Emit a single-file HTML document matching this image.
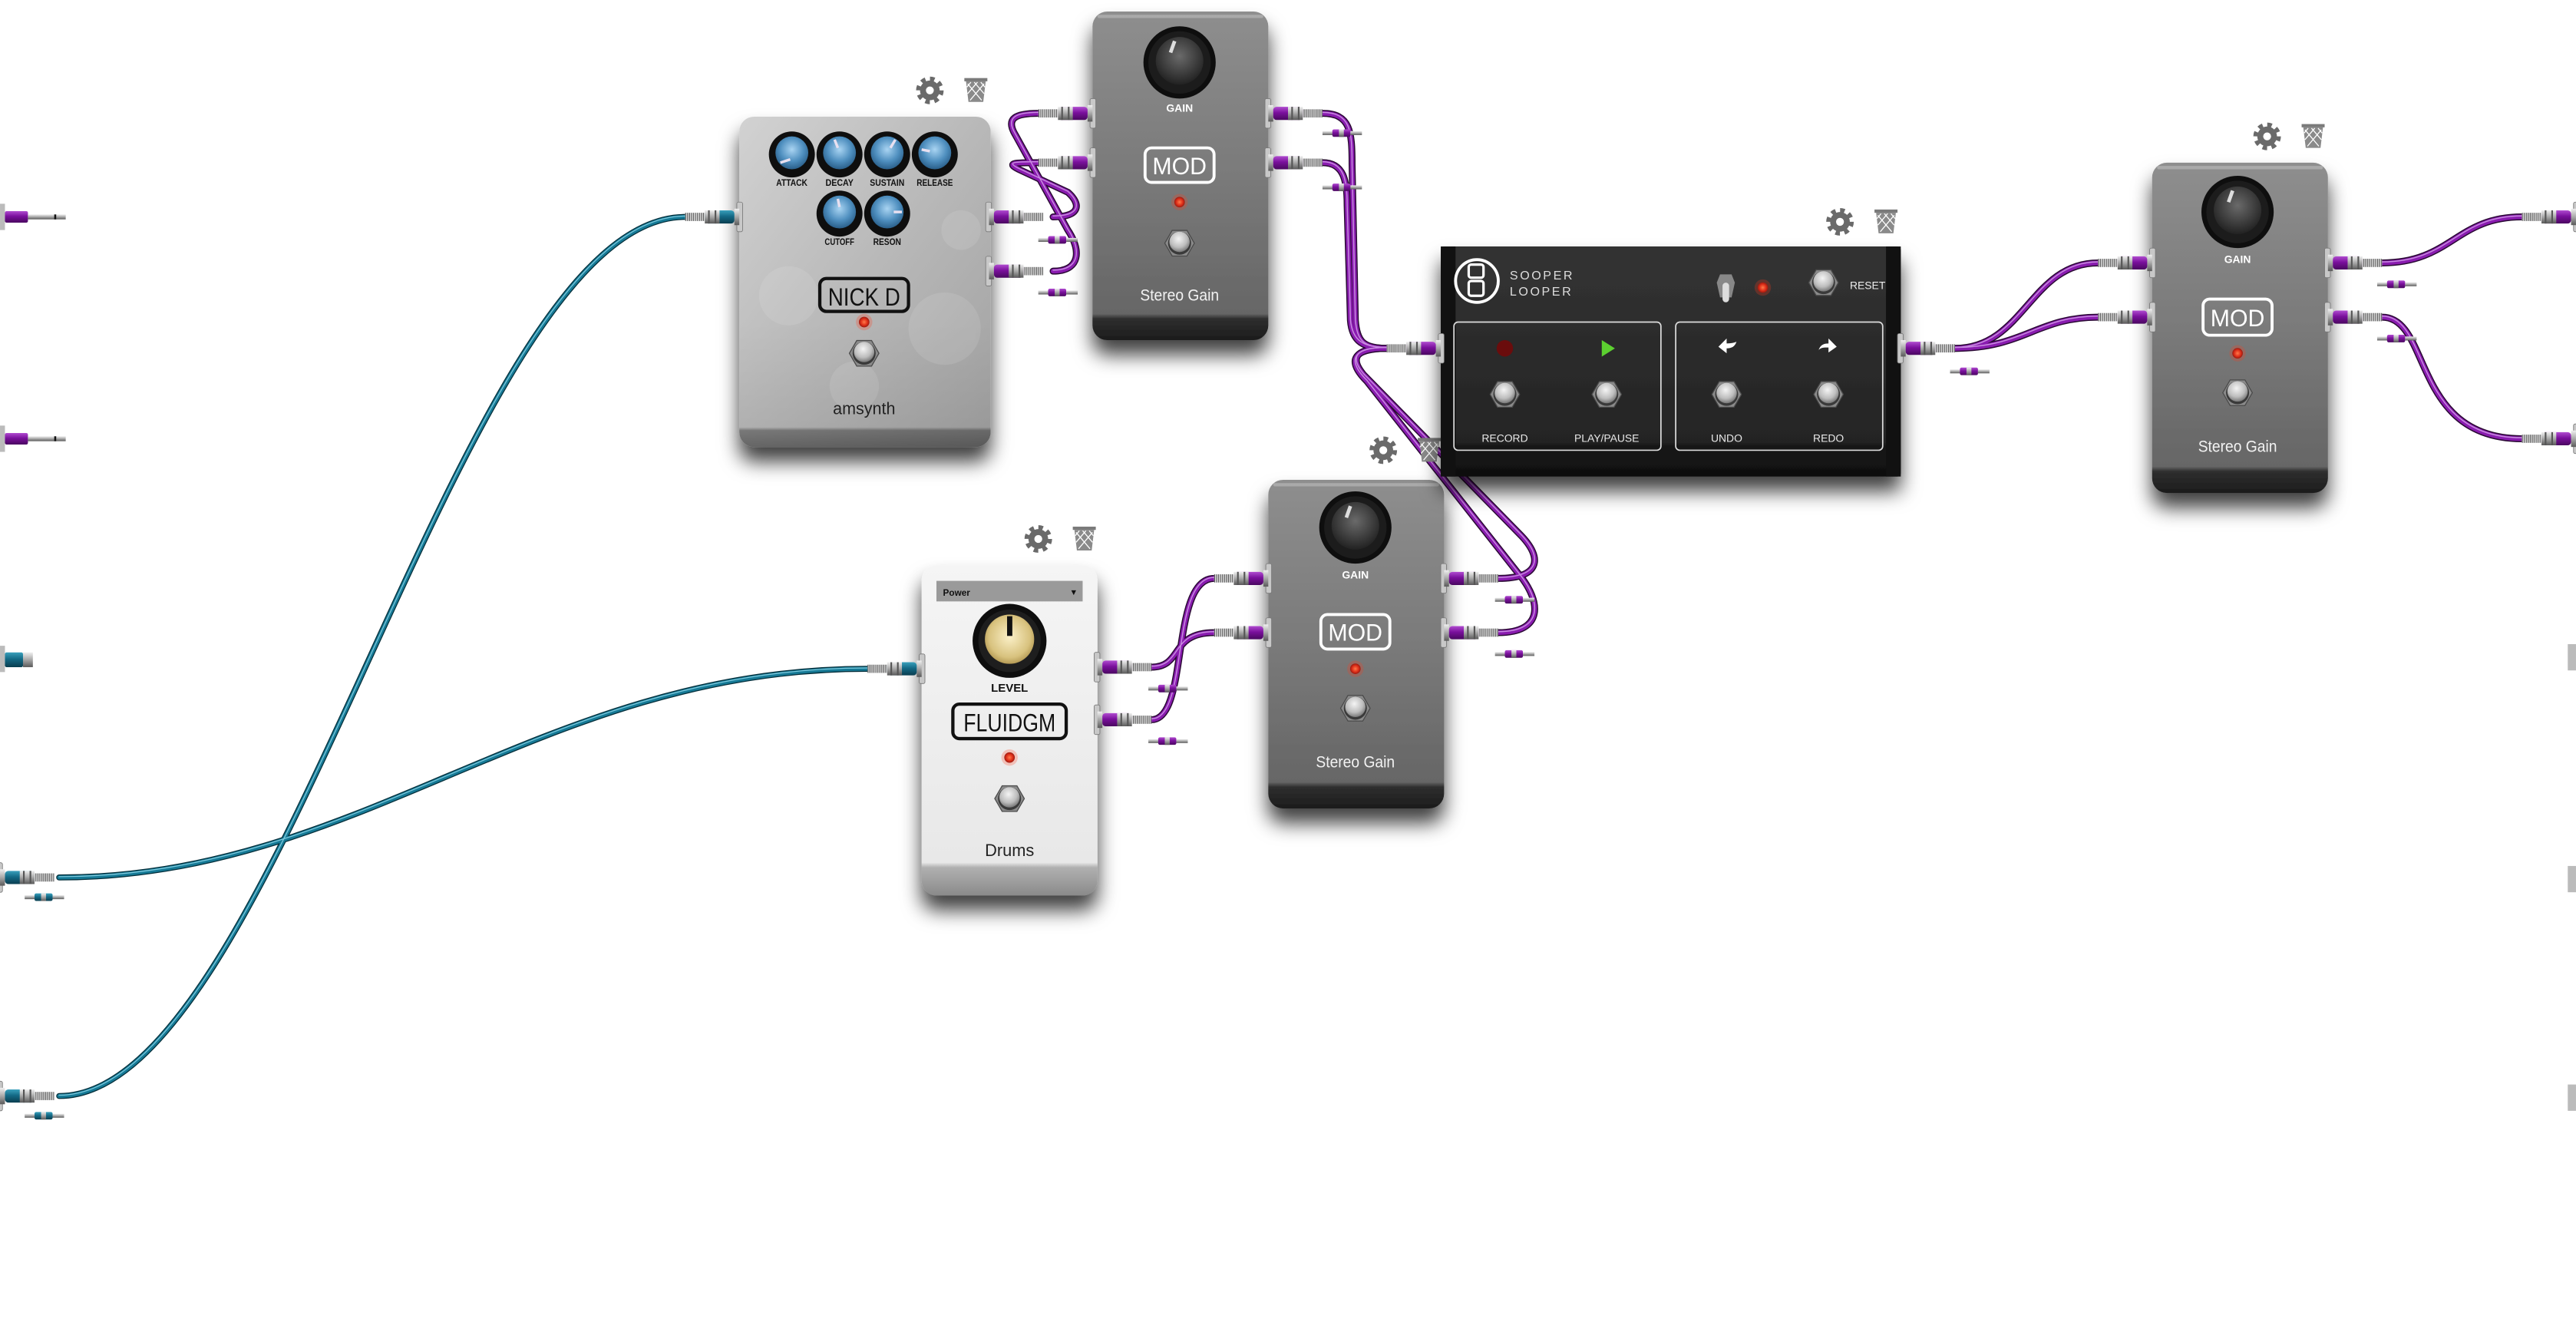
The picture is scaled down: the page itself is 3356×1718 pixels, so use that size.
<!DOCTYPE html>
<html><head><meta charset="utf-8"><style>
html,body{margin:0;padding:0;background:#fff;}
svg{display:block;}
text{font-family:"Liberation Sans",sans-serif;}
</style></head><body>
<svg width="3356" height="1718" viewBox="0 0 1568 802.7" xmlns="http://www.w3.org/2000/svg">
<defs>
<filter id="sh" x="-30%" y="-20%" width="160%" height="160%"><feDropShadow dx="0" dy="9" stdDeviation="6" flood-color="#000" flood-opacity="0.75"/></filter>
<linearGradient id="sgBody" x1="0" y1="0" x2="0" y2="1"><stop offset="0" stop-color="#8e8e8e"/><stop offset="0.5" stop-color="#7a7a7a"/><stop offset="0.92" stop-color="#666"/><stop offset="0.935" stop-color="#2e2e2e"/><stop offset="1" stop-color="#1c1c1c"/></linearGradient>
<linearGradient id="ndBody" x1="0" y1="0" x2="1" y2="1"><stop offset="0" stop-color="#d2d2d2"/><stop offset="0.5" stop-color="#b8b8b8"/><stop offset="1" stop-color="#a0a0a0"/></linearGradient>
<linearGradient id="ndBand" x1="0" y1="0" x2="0" y2="1"><stop offset="0" stop-color="#000" stop-opacity="0"/><stop offset="0.62" stop-color="#000" stop-opacity="0"/><stop offset="0.94" stop-color="#000" stop-opacity="0.05"/><stop offset="0.95" stop-color="#000" stop-opacity="0.35"/><stop offset="1" stop-color="#000" stop-opacity="0.45"/></linearGradient>
<linearGradient id="wBody" x1="0" y1="0" x2="0" y2="1"><stop offset="0" stop-color="#f5f5f5"/><stop offset="0.9" stop-color="#e8e8e8"/><stop offset="0.915" stop-color="#b0b0b0"/><stop offset="1" stop-color="#8a8a8a"/></linearGradient>
<linearGradient id="slBody" x1="0" y1="0" x2="0" y2="1"><stop offset="0" stop-color="#333"/><stop offset="0.85" stop-color="#242424"/><stop offset="0.87" stop-color="#151515"/><stop offset="1" stop-color="#101010"/></linearGradient>
<radialGradient id="blueG" cx="0.5" cy="0.4" r="0.6"><stop offset="0" stop-color="#a9d4f2"/><stop offset="0.6" stop-color="#4f8fbf"/><stop offset="1" stop-color="#2a5f8a"/></radialGradient>
<radialGradient id="blackG" cx="0.5" cy="0.4" r="0.6"><stop offset="0" stop-color="#6a6a6a"/><stop offset="1" stop-color="#222"/></radialGradient>
<radialGradient id="goldG" cx="0.5" cy="0.45" r="0.6"><stop offset="0" stop-color="#fbf0c8"/><stop offset="0.7" stop-color="#d8c27e"/><stop offset="1" stop-color="#a88c46"/></radialGradient>
<radialGradient id="silvR" cx="0.45" cy="0.35" r="0.7"><stop offset="0" stop-color="#f4f4f4"/><stop offset="0.6" stop-color="#bdbdbd"/><stop offset="1" stop-color="#6a6a6a"/></radialGradient>
<radialGradient id="ledR" cx="0.5" cy="0.5" r="0.5"><stop offset="0" stop-color="#ff7a4a"/><stop offset="0.6" stop-color="#e0301a"/><stop offset="1" stop-color="#9a1a10"/></radialGradient>
<linearGradient id="purp" x1="0" y1="0" x2="0" y2="1"><stop offset="0" stop-color="#b04cd0"/><stop offset="0.45" stop-color="#7a109c"/><stop offset="1" stop-color="#4a0860"/></linearGradient>
<linearGradient id="teal" x1="0" y1="0" x2="0" y2="1"><stop offset="0" stop-color="#3aa0bc"/><stop offset="0.45" stop-color="#146a86"/><stop offset="1" stop-color="#0a3e50"/></linearGradient>
<linearGradient id="silv" x1="0" y1="0" x2="0" y2="1"><stop offset="0" stop-color="#f0f0f0"/><stop offset="0.5" stop-color="#a8a8a8"/><stop offset="1" stop-color="#5a5a5a"/></linearGradient>
<pattern id="rib" width="1.2" height="10" patternUnits="userSpaceOnUse"><rect width="1.2" height="10" fill="#ddd"/><rect width="0.5" height="10" fill="#555"/></pattern>

<g id="jack"><rect x="-2" y="-9" width="3.5" height="18" rx="1" fill="#c8c8c8" stroke="#777" stroke-width="0.4"/><rect x="0" y="-5" width="3" height="10" fill="url(#silv)"/></g>
<g id="plugP"><use href="#jack"/><rect x="3" y="-4" width="18" height="8" rx="2" fill="url(#purp)"/><rect x="12" y="-4" width="9" height="8" fill="url(#silv)"/><rect x="14" y="-4" width="1" height="8" fill="#555"/><rect x="18" y="-4" width="1" height="8" fill="#555"/><rect x="21" y="-2.5" width="12" height="5" fill="url(#rib)"/></g>
<g id="plugT"><use href="#jack"/><rect x="3" y="-4" width="18" height="8" rx="2" fill="url(#teal)"/><rect x="12" y="-4" width="9" height="8" fill="url(#silv)"/><rect x="14" y="-4" width="1" height="8" fill="#555"/><rect x="18" y="-4" width="1" height="8" fill="#555"/><rect x="21" y="-2.5" width="12" height="5" fill="url(#rib)"/></g>
<g id="smallP"><rect x="0" y="-1.2" width="7" height="2.4" fill="url(#silv)"/><rect x="6" y="-2.3" width="11" height="4.6" rx="1" fill="url(#purp)"/><rect x="10" y="-2.3" width="3" height="4.6" fill="url(#silv)"/><rect x="17" y="-1.2" width="7" height="2.4" fill="url(#silv)"/></g>
<g id="smallT"><rect x="0" y="-1.2" width="7" height="2.4" fill="url(#silv)"/><rect x="6" y="-2.3" width="11" height="4.6" rx="1" fill="url(#teal)"/><rect x="10" y="-2.3" width="3" height="4.6" fill="url(#silv)"/><rect x="17" y="-1.2" width="7" height="2.4" fill="url(#silv)"/></g>
<g id="fs"><polygon points="9,0 4.5,7.8 -4.5,7.8 -9,0 -4.5,-7.8 4.5,-7.8" fill="#8a8a8a" stroke="#4a4a4a" stroke-width="0.6"/><circle r="7" fill="#3a3a3a"/><circle r="6.2" cy="-0.8" fill="url(#silvR)"/></g>
<g id="led"><circle r="5" fill="#ff3a1a" opacity="0.25"/><circle r="3.2" fill="url(#ledR)"/></g>
<g id="gear"><circle r="7" fill="none" stroke="#6a6a6a" stroke-width="2.8" stroke-dasharray="2.75 2.75"/><circle r="6" fill="#6a6a6a"/><circle r="2.4" fill="#fff"/></g>
<g id="trash"><rect x="-7" y="-7.5" width="14" height="2" fill="#7a7a7a"/><path d="M-6,-5.5 L6,-5.5 L4.5,7 L-4.5,7Z" fill="#8a8a8a"/><path d="M-5,-4 L3.5,6 M-1,-5 L5,2 M3,-5 L5.5,-2 M5,-4 L-3.5,6 M1,-5 L-5,2 M-3,-5 L-5.5,-2" stroke="#fff" stroke-width="0.6"/></g>
<g id="knobD"><circle r="22" fill="#0e0e0e"/><circle r="19" fill="#1c1c1c"/><circle r="14.5" cy="-1" fill="url(#blackG)"/><line x1="-3" y1="-13" x2="-5.5" y2="-6" stroke="#ddd" stroke-width="2.2"/></g>
<g id="knobB"><circle r="14" fill="#0e0e0e"/><circle r="10" cy="-1" fill="url(#blueG)"/></g>
</defs>

<g fill="none" stroke-linecap="round">
<g stroke="#2a0a34" stroke-width="4.2">
<path id="c1" d="M641,132 C658,132 658,124 650,117 L620,103 C612,99 618,99 632,99"/>
<path id="c2" d="M641,165 C658,165 658,152 650,140 L618,82 C612,72 618,69 632,69"/>
<path id="c3" d="M805,69 C822,69 823,80 823,100 L825,195 C826,208 830,212 844,212"/>
<path id="c4" d="M805,99 C818,99 820,110 820,125 L822,195 C823,208 830,212 844,212"/>
<path id="c5" d="M912,352 C937,352 940,340 925,325 L830,228 C820,216 828,212 844,212"/>
<path id="c6" d="M912,385 C940,385 938,366 925,350 L832,232 C818,218 826,212 844,212"/>
<path id="c7" d="M701,406 C720,406 712,385 739,385"/>
<path id="c8" d="M701,438 C724,438 712,352 739,352"/>
<path id="c9" d="M1190,212 C1232,212 1236,160 1277,160"/>
<path id="c10" d="M1190,212 C1232,212 1240,193 1277,193"/>
<path id="c11" d="M1450,160 C1492,160 1495,132 1535,132"/>
<path id="c12" d="M1450,193 C1480,193 1468,267 1535,267"/>
</g>
<g stroke="#8a1cb0" stroke-width="2.8">
<use href="#c1"/><use href="#c2"/><use href="#c3"/><use href="#c4"/><use href="#c5"/><use href="#c6"/><use href="#c7"/><use href="#c8"/><use href="#c9"/><use href="#c10"/><use href="#c11"/><use href="#c12"/>
</g>
<g stroke="#c88ae0" stroke-width="0.7" transform="translate(0,-0.6)">
<use href="#c1"/><use href="#c2"/><use href="#c3"/><use href="#c4"/><use href="#c5"/><use href="#c6"/><use href="#c7"/><use href="#c8"/><use href="#c9"/><use href="#c10"/><use href="#c11"/><use href="#c12"/>
</g>
<g stroke="#06303c" stroke-width="3.6">
<path id="t1" d="M36,534 C220,534 330,407 528,407"/>
<path id="t2" d="M36,667 C170,667 280,132 417,132"/>
</g>
<g stroke="#167a96" stroke-width="2.4"><use href="#t1"/><use href="#t2"/></g>
<g stroke="#7cc8dc" stroke-width="0.6" transform="translate(0,-0.5)"><use href="#t1"/><use href="#t2"/></g>
</g>

<g>
<rect x="0" y="124" width="3" height="16" fill="#bbb"/><rect x="3" y="128.5" width="14" height="7" rx="1" fill="url(#purp)"/><rect x="17" y="130.5" width="23" height="3" fill="url(#silv)"/><rect x="33" y="130.5" width="1.2" height="3" fill="#111"/>
<rect x="0" y="259" width="3" height="16" fill="#bbb"/><rect x="3" y="263.5" width="14" height="7" rx="1" fill="url(#purp)"/><rect x="17" y="265.5" width="23" height="3" fill="url(#silv)"/><rect x="33" y="265.5" width="1.2" height="3" fill="#111"/>
<rect x="0" y="393" width="3" height="16" fill="#bbb"/><rect x="3" y="397" width="11" height="9" rx="1" fill="url(#teal)"/><rect x="14" y="397" width="6" height="9" fill="url(#silv)"/>
<use href="#plugT" x="0" y="534"/><use href="#smallT" x="15" y="546"/>
<use href="#plugT" x="0" y="667"/><use href="#smallT" x="15" y="679"/>
</g>
<g fill="#bbb"><rect x="1563" y="392" width="5" height="16"/><rect x="1563" y="527" width="5" height="16"/><rect x="1563" y="660" width="5" height="16"/></g>
<use href="#plugP" transform="translate(1568,132) scale(-1,1)"/>
<use href="#plugP" transform="translate(1568,267) scale(-1,1)"/>

<!-- NICK D amsynth -->
<use href="#gear" x="566" y="55"/><use href="#trash" x="594" y="55"/>
<g filter="url(#sh)"><rect x="450" y="71" width="153" height="201" rx="9" fill="url(#ndBody)"/></g>
<rect x="450" y="71" width="153" height="201" rx="9" fill="url(#ndBand)"/>
<g fill="#fff" opacity="0.1"><circle cx="480" cy="180" r="18"/><circle cx="575" cy="200" r="22"/><circle cx="520" cy="235" r="15"/><circle cx="585" cy="140" r="12"/></g>
<use href="#knobB" x="482" y="94"/><line x1="481" y1="97" x2="475" y2="99" stroke="#e8e0f0" stroke-width="1.6"/>
<use href="#knobB" x="511" y="94"/><line x1="510" y1="90" x2="508" y2="85" stroke="#e8e0f0" stroke-width="1.6"/>
<use href="#knobB" x="540" y="94"/><line x1="542" y1="90" x2="545" y2="85" stroke="#e8e0f0" stroke-width="1.6"/>
<use href="#knobB" x="569" y="94"/><line x1="566" y1="92" x2="561" y2="91" stroke="#e8e0f0" stroke-width="1.6"/>
<use href="#knobB" x="511" y="130"/><line x1="511" y1="126" x2="510" y2="121" stroke="#e8e0f0" stroke-width="1.6"/>
<use href="#knobB" x="540" y="130"/><line x1="544" y1="129" x2="549" y2="129" stroke="#e8e0f0" stroke-width="1.6"/>
<g font-size="5.6" fill="#111" text-anchor="middle" font-weight="bold">
<text x="482" y="113" textLength="19" lengthAdjust="spacingAndGlyphs">ATTACK</text>
<text x="511" y="113" textLength="17" lengthAdjust="spacingAndGlyphs">DECAY</text>
<text x="540" y="113" textLength="21" lengthAdjust="spacingAndGlyphs">SUSTAIN</text>
<text x="569" y="113" textLength="22" lengthAdjust="spacingAndGlyphs">RELEASE</text>
<text x="511" y="149" textLength="18" lengthAdjust="spacingAndGlyphs">CUTOFF</text>
<text x="540" y="149" textLength="17" lengthAdjust="spacingAndGlyphs">RESON</text>
</g>
<rect x="499" y="169.5" width="54" height="20" rx="4" fill="none" stroke="#111" stroke-width="2"/>
<text x="526" y="186" font-size="15" text-anchor="middle" fill="#111" textLength="44" lengthAdjust="spacingAndGlyphs">NICK D</text>
<use href="#led" x="526" y="196"/>
<use href="#fs" x="526" y="215"/>
<text x="526" y="252" font-size="10.5" text-anchor="middle" fill="#222" textLength="38" lengthAdjust="spacingAndGlyphs">amsynth</text>
<use href="#plugT" transform="translate(450,132) scale(-1,1)"/>
<use href="#plugP" x="602" y="132"/><use href="#plugP" x="602" y="165"/>
<use href="#smallP" x="632" y="146"/><use href="#smallP" x="632" y="178"/>

<!-- Stereo Gain 1 -->
<g transform="translate(665,7)">
<g filter="url(#sh)"><rect x="0" y="0" width="107" height="200" rx="9" fill="url(#sgBody)"/></g>
<rect x="3" y="2" width="101" height="2" rx="1" fill="#fff" opacity="0.25"/>
<use href="#knobD" x="53" y="31"/>
<text x="53" y="61" font-size="6.5" font-weight="bold" fill="#fff" text-anchor="middle">GAIN</text>
<rect x="32" y="83" width="42" height="21" rx="4" fill="none" stroke="#fff" stroke-width="1.8"/>
<text x="53" y="99" font-size="14.5" fill="#fff" text-anchor="middle" textLength="33" lengthAdjust="spacingAndGlyphs">MOD</text>
<use href="#led" x="53" y="116"/>
<use href="#fs" x="53" y="141"/>
<text x="53" y="176" font-size="10" fill="#f2f2f2" text-anchor="middle" textLength="48" lengthAdjust="spacingAndGlyphs">Stereo Gain</text>
</g>
<use href="#plugP" transform="translate(665,69) scale(-1,1)"/><use href="#plugP" transform="translate(665,99) scale(-1,1)"/>
<use href="#plugP" x="772" y="69"/><use href="#plugP" x="772" y="99"/>
<use href="#smallP" x="805" y="81"/><use href="#smallP" x="805" y="114"/>

<!-- Drums FLUIDGM -->
<use href="#gear" x="632" y="328"/><use href="#trash" x="660" y="328"/>
<g filter="url(#sh)"><rect x="561" y="344" width="107" height="201" rx="9" fill="url(#wBody)"/></g>
<rect x="570" y="353.5" width="89" height="12.5" fill="#9a9a9a"/>
<text x="574" y="362.5" font-size="5.5" fill="#111" font-weight="bold">Power</text>
<text x="656" y="362" font-size="5" fill="#111" text-anchor="end">▼</text>
<circle cx="614.5" cy="390" r="22.5" fill="#0e0e0e"/><circle cx="614.5" cy="390" r="19" fill="#1e1e1e"/>
<circle cx="614.5" cy="389" r="15" fill="url(#goldG)"/>
<rect x="613" y="375" width="3.2" height="12" fill="#111"/>
<text x="614.5" y="421" font-size="7" font-weight="bold" fill="#111" text-anchor="middle">LEVEL</text>
<rect x="580" y="428.5" width="69" height="21" rx="4" fill="none" stroke="#111" stroke-width="2"/>
<text x="614.5" y="445" font-size="15" fill="#111" text-anchor="middle" textLength="56" lengthAdjust="spacingAndGlyphs">FLUIDGM</text>
<use href="#led" x="614.5" y="461"/>
<use href="#fs" x="614.5" y="486"/>
<text x="614.5" y="521" font-size="10.5" fill="#222" text-anchor="middle" textLength="30" lengthAdjust="spacingAndGlyphs">Drums</text>
<use href="#plugT" transform="translate(561,407) scale(-1,1)"/>
<use href="#plugP" x="668" y="406"/><use href="#plugP" x="668" y="438"/>
<use href="#smallP" x="699" y="419"/><use href="#smallP" x="699" y="451"/>

<!-- Stereo Gain 2 -->
<use href="#gear" x="842" y="274"/><use href="#trash" x="870" y="274"/>
<g transform="translate(772,292)">
<g filter="url(#sh)"><rect x="0" y="0" width="107" height="200" rx="9" fill="url(#sgBody)"/></g>
<rect x="3" y="2" width="101" height="2" rx="1" fill="#fff" opacity="0.25"/>
<use href="#knobD" x="53" y="29"/>
<text x="53" y="60" font-size="6.5" font-weight="bold" fill="#fff" text-anchor="middle">GAIN</text>
<rect x="32" y="82" width="42" height="21" rx="4" fill="none" stroke="#fff" stroke-width="1.8"/>
<text x="53" y="98" font-size="14.5" fill="#fff" text-anchor="middle" textLength="33" lengthAdjust="spacingAndGlyphs">MOD</text>
<use href="#led" x="53" y="115"/>
<use href="#fs" x="53" y="139"/>
<text x="53" y="175" font-size="10" fill="#f2f2f2" text-anchor="middle" textLength="48" lengthAdjust="spacingAndGlyphs">Stereo Gain</text>
</g>
<use href="#plugP" transform="translate(772,352) scale(-1,1)"/><use href="#plugP" transform="translate(772,385) scale(-1,1)"/>
<use href="#plugP" x="879" y="352"/><use href="#plugP" x="879" y="385"/>
<use href="#smallP" x="910" y="365"/><use href="#smallP" x="910" y="398"/>

<!-- Sooper Looper -->
<use href="#gear" x="1120" y="135"/><use href="#trash" x="1148" y="135"/>
<g filter="url(#sh)"><rect x="877" y="150" width="280" height="140" rx="2" fill="url(#slBody)"/></g>
<rect x="877" y="150" width="9" height="140" fill="#111"/><rect x="1148" y="150" width="9" height="140" fill="#111"/>
<circle cx="899" cy="171" r="13" fill="none" stroke="#fff" stroke-width="1.8"/>
<rect x="894" y="161" width="9" height="8" rx="1.5" fill="none" stroke="#fff" stroke-width="1.5"/>
<rect x="894" y="171" width="9" height="9" rx="1.5" fill="none" stroke="#fff" stroke-width="1.5"/>
<g font-size="7.5" fill="#ddd" letter-spacing="1.2"><text x="919" y="170">SOOPER</text><text x="919" y="180">LOOPER</text></g>
<polygon points="1045,172 1047,167 1054,167 1056,172 1054,181 1047,181" fill="#888"/><rect x="1048.5" y="172" width="4" height="12" rx="2" fill="#ddd"/>
<use href="#led" x="1073" y="175"/>
<use href="#fs" x="1110" y="172"/>
<text x="1126" y="176" font-size="6.5" fill="#eee">RESET</text>
<rect x="885" y="196" width="126" height="78" rx="2.5" fill="none" stroke="#ddd" stroke-width="0.8"/>
<rect x="1020" y="196" width="126" height="78" rx="2.5" fill="none" stroke="#ddd" stroke-width="0.8"/>
<circle cx="916" cy="212" r="5" fill="#6a0c0c"/>
<polygon points="975,207 975,217 983,212" fill="#5cd030"/>
<path d="M1046,211 l5,-5 v3 c3,0 5,-0.5 6,-1 c-1,3 -3,4 -6,4 v3z" fill="#fff"/>
<path d="M1118,211 l-5,-5 v3 c-3,0 -5,1 -6,4 c1.5,-1.5 3,-1.5 6,-1.5 v3z" fill="#fff"/>
<use href="#fs" x="916" y="240"/><use href="#fs" x="978" y="240"/><use href="#fs" x="1051" y="240"/><use href="#fs" x="1113" y="240"/>
<g font-size="6.5" fill="#e8e8e8" text-anchor="middle">
<text x="916" y="269">RECORD</text><text x="978" y="269">PLAY/PAUSE</text><text x="1051" y="269">UNDO</text><text x="1113" y="269">REDO</text>
</g>
<use href="#plugP" transform="translate(877,212) scale(-1,1)"/>
<use href="#plugP" x="1157" y="212"/>
<use href="#smallP" x="1187" y="226"/>

<!-- Stereo Gain 3 -->
<use href="#gear" x="1380" y="83"/><use href="#trash" x="1408" y="83"/>
<g transform="translate(1310,99)">
<g filter="url(#sh)"><rect x="0" y="0" width="107" height="201" rx="9" fill="url(#sgBody)"/></g>
<rect x="3" y="2" width="101" height="2" rx="1" fill="#fff" opacity="0.25"/>
<use href="#knobD" x="52" y="30"/>
<text x="52" y="61" font-size="6.5" font-weight="bold" fill="#fff" text-anchor="middle">GAIN</text>
<rect x="31" y="83" width="42" height="22" rx="4" fill="none" stroke="#fff" stroke-width="1.8"/>
<text x="52" y="99.5" font-size="14.5" fill="#fff" text-anchor="middle" textLength="33" lengthAdjust="spacingAndGlyphs">MOD</text>
<use href="#led" x="52" y="116"/>
<use href="#fs" x="52" y="140"/>
<text x="52" y="176" font-size="10" fill="#f2f2f2" text-anchor="middle" textLength="48" lengthAdjust="spacingAndGlyphs">Stereo Gain</text>
</g>
<use href="#plugP" transform="translate(1310,160) scale(-1,1)"/><use href="#plugP" transform="translate(1310,193) scale(-1,1)"/>
<use href="#plugP" x="1417" y="160"/><use href="#plugP" x="1417" y="193"/>
<use href="#smallP" x="1447" y="173"/><use href="#smallP" x="1447" y="206"/>
</svg>
</body></html>
